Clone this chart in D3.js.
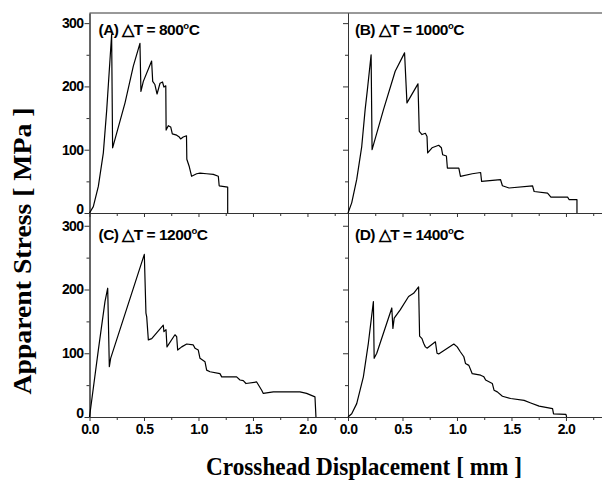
<!DOCTYPE html>
<html>
<head>
<meta charset="utf-8">
<script src="https://cdn.jsdelivr.net/npm/d3@7"></script>
<style>
  html, body { margin: 0; padding: 0; background: #fff; }
  svg { display: block; }
</style>
</head>
<body>
<svg id="chart" width="602" height="486"></svg>
<script>
// ---- Data (displacement in mm, apparent stress in MPa) ----
const panelLabels = ["(A) \u25B3T = 800", "(B) \u25B3T = 1000", "(C) \u25B3T = 1200", "(D) \u25B3T = 1400"];

const dispA   = [0, 0.035, 0.081, 0.127, 0.158, 0.188, 0.203, 0.212, 0.326, 0.402, 0.463, 0.472, 0.494, 0.57, 0.58, 0.60, 0.62, 0.647, 0.67, 0.683, 0.70, 0.703, 0.723, 0.745, 0.76, 0.80, 0.824, 0.836, 0.86, 0.89, 0.893, 0.916, 0.937, 0.983, 1.014, 1.075, 1.136, 1.182, 1.19, 1.268, 1.268];
const stressA = [0, 10, 42, 95, 163, 242, 282, 103, 174, 232, 268, 192, 208, 240, 208, 203, 188, 205, 207, 199, 201, 131, 138, 136, 125, 123, 120, 117, 120, 122, 85, 73, 58, 62, 63, 62, 61, 58, 43, 41, 0];

const dispB   = [0, 0.034, 0.08, 0.126, 0.157, 0.178, 0.212, 0.221, 0.325, 0.433, 0.519, 0.541, 0.642, 0.654, 0.679, 0.71, 0.725, 0.731, 0.771, 0.832, 0.857, 0.869, 0.903, 0.912, 1.017, 1.032, 1.14, 1.217, 1.226, 1.40, 1.417, 1.478, 1.693, 1.708, 1.831, 1.862, 2.015, 2.03, 2.101, 2.101];
const stressB = [0, 16, 53, 105, 163, 195, 250, 100, 163, 224, 253, 174, 204, 129, 124, 126, 121, 95, 103, 107, 103, 92, 90, 71, 71, 58, 62, 64, 50, 52.6, 43, 39.5, 43, 34, 31.5, 25, 25, 21, 21, 0];

const dispC   = [0, 0.081, 0.142, 0.167, 0.182, 0.194, 0.503, 0.518, 0.525, 0.54, 0.571, 0.677, 0.683, 0.702, 0.711, 0.784, 0.80, 0.809, 0.846, 0.892, 0.952, 0.968, 0.998, 1.014, 1.06, 1.075, 1.106, 1.197, 1.213, 1.35, 1.381, 1.411, 1.436, 1.534, 1.58, 1.595, 1.687, 1.931, 1.992, 2.069, 2.078];
const stressC = [0, 105, 181, 202, 79, 92, 255, 163, 157, 121, 123, 144, 134, 137, 110, 129, 126, 105, 110, 114.5, 113, 108, 105, 92, 86.6, 73.5, 71, 68, 63, 63, 58, 57, 52.5, 55, 42, 37, 39.5, 39.5, 37, 31.5, 0];

const dispD   = [0, 0.034, 0.08, 0.141, 0.187, 0.233, 0.24, 0.264, 0.402, 0.412, 0.424, 0.479, 0.556, 0.602, 0.648, 0.657, 0.679, 0.694, 0.71, 0.725, 0.802, 0.817, 0.832, 0.971, 1.002, 1.032, 1.063, 1.078, 1.109, 1.14, 1.217, 1.247, 1.263, 1.324, 1.34, 1.37, 1.417, 1.493, 1.616, 1.677, 1.754, 1.877, 1.886, 2.0, 2.006];
const stressD = [0, 5, 21, 63, 116, 181, 92, 100, 171, 139, 155, 168, 189, 194, 204, 127, 123, 115.6, 110, 108, 118, 100, 99, 114.5, 110, 102, 94.5, 84, 81, 68, 65.6, 63, 58, 52.6, 42, 39.4, 32.6, 29, 26, 22, 17, 13, 5, 4, 0];

const yMajorTicks = [0, 100, 200, 300];
const yMinorTicks = [50, 150, 250];
const xMajorTicks = [0, 0.5, 1.0, 1.5, 2.0];
const xMinorTicks = [0.25, 0.75, 1.25, 1.75, 2.25];

const yTitle = "Apparent Stress [ MPa ]";
const xTitle = "Crosshead Displacement [ mm ]";

// ---- Layout ----
const svg = d3.select("#chart");
const colX = [[89.5, 348], [348, 606.5]];
const rowY = [[213, 13], [417, 213]];
const yDomains = [[0, 316], [0, 320]];
const xDomain = [0, 2.372];

const panels = [
  {disp: dispA, stress: stressA, col: 0, row: 0, label: panelLabels[0]},
  {disp: dispB, stress: stressB, col: 1, row: 0, label: panelLabels[1]},
  {disp: dispC, stress: stressC, col: 0, row: 1, label: panelLabels[2]},
  {disp: dispD, stress: stressD, col: 1, row: 1, label: panelLabels[3]}
];

const tickFont = "'Liberation Sans', Arial, sans-serif";
const fmtX = d3.format(".1f");

// top border
svg.append("line").attr("x1", 89.5).attr("x2", 602).attr("y1", 13).attr("y2", 13)
  .attr("stroke", "#333").attr("stroke-width", 1);

panels.forEach(p => {
  const x = d3.scaleLinear().domain(xDomain).range(colX[p.col]);
  const y = d3.scaleLinear().domain(yDomains[p.row]).range(rowY[p.row]);
  const g = svg.append("g");

  // minor ticks
  const yMin = d3.axisLeft(y).tickValues(yMinorTicks).tickSize(3).tickSizeOuter(0).tickFormat("");
  g.append("g").attr("transform", `translate(${colX[p.col][0]},0)`).call(yMin);
  const xMin = d3.axisBottom(x).tickValues(xMinorTicks).tickSize(3).tickSizeOuter(0).tickFormat("");
  g.append("g").attr("transform", `translate(0,${rowY[p.row][0]})`).call(xMin);

  // major ticks
  const yAx = d3.axisLeft(y).tickValues(yMajorTicks).tickSize(5).tickSizeOuter(0).tickPadding(1)
    .tickFormat(p.col === 0 ? d3.format("d") : "");
  const ya = g.append("g").attr("class", "yax").attr("transform", `translate(${colX[p.col][0]},0)`).call(yAx);
  // lift the "0" label slightly so it clears the labels below it
  ya.selectAll(".tick").filter(d => d === 0).select("text").attr("dy", "0.05em");
  const xAx = d3.axisBottom(x).tickValues(xMajorTicks).tickSize(4).tickSizeOuter(0).tickPadding(3)
    .tickFormat(p.row === 1 ? fmtX : "");
  g.append("g").attr("class", "xax").attr("transform", `translate(0,${rowY[p.row][0]})`).call(xAx);

  g.selectAll("path.domain").attr("stroke", "#333");
  g.selectAll(".tick line").attr("stroke", "#333");
  g.selectAll(".tick text").attr("font-family", tickFont).attr("font-weight", "bold")
    .attr("font-size", 14).attr("fill", "#000").attr("letter-spacing", "-0.6");

  // data line
  const pts = p.disp.map((d, i) => [d, p.stress[i]]);
  g.append("path").datum(pts)
    .attr("fill", "none").attr("stroke", "#000").attr("stroke-width", 1.2)
    .attr("stroke-linejoin", "round")
    .attr("d", d3.line().x(d => x(d[0])).y(d => y(d[1])));

  // panel label
  const t = g.append("text")
    .attr("x", colX[p.col][0] + (p.col === 0 ? 9 : 7))
    .attr("y", rowY[p.row][1] + (p.row === 0 ? 22 : 27))
    .attr("font-family", tickFont).attr("font-weight", "bold").attr("font-size", 15.5)
    .attr("letter-spacing", "-0.5").attr("fill", "#000");
  t.append("tspan").text(p.label);
  t.append("tspan").attr("font-size", 9.5).attr("dy", -6.5).text("o");
  t.append("tspan").attr("dy", 6.5).text("C");
});

// axis titles
svg.append("text")
  .attr("transform", "translate(31,251) rotate(-90)")
  .attr("text-anchor", "middle")
  .attr("font-family", "'Liberation Serif', 'Times New Roman', serif")
  .attr("font-weight", "bold").attr("font-size", 26)
  .attr("textLength", 287).attr("lengthAdjust", "spacingAndGlyphs")
  .text(yTitle);

svg.append("text")
  .attr("x", 364).attr("y", 475)
  .attr("text-anchor", "middle")
  .attr("font-family", "'Liberation Serif', 'Times New Roman', serif")
  .attr("font-weight", "bold").attr("font-size", 26)
  .attr("textLength", 316).attr("lengthAdjust", "spacingAndGlyphs")
  .text(xTitle);
</script>
</body>
</html>
